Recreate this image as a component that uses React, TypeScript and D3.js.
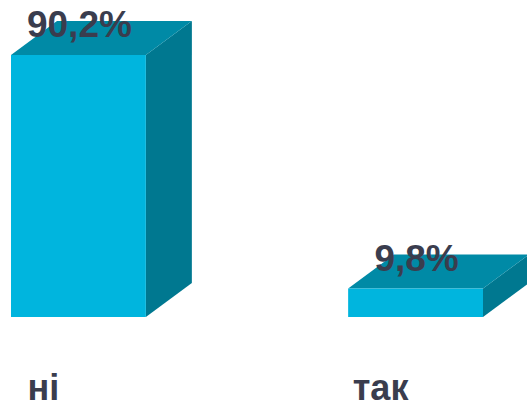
import React, { useRef, useEffect } from 'react';
import * as d3 from 'd3';

const categories = ['ні', 'так'];
const values = [90.2, 9.8];
const valueLabels = ['90,2%', '9,8%'];

const App: React.FC = () => {
  const chartRef = useRef<SVGSVGElement | null>(null);

  useEffect(() => {
    const svg = d3.select(chartRef.current);
    svg.selectAll('*').remove();

    const width = 527;
    const height = 403;
    const depthX = 46;
    const depthY = 34;

    const x = d3.scaleBand<string>()
      .domain(categories)
      .range([11, 483])
      .paddingInner(0.6)
      .paddingOuter(0);

    const y = d3.scaleLinear()
      .domain([0, 90.2])
      .range([317, 55]);

    const data = categories.map((c, i) => ({ cat: c, value: values[i], label: valueLabels[i] }));

    const bar = svg.selectAll('.bar')
      .data(data)
      .enter()
      .append('g')
      .attr('class', 'bar');

    const line = d3.line();

    // side face
    bar.append('path')
      .attr('d', d => {
        const x1 = x(d.cat)! + x.bandwidth();
        return line([
          [x1, y(d.value)],
          [x1 + depthX, y(d.value) - depthY],
          [x1 + depthX, y(0) - depthY],
          [x1, y(0)],
        ]) + 'Z';
      })
      .attr('fill', '#007890');

    // top face
    bar.append('path')
      .attr('d', d => {
        const x0 = x(d.cat)!;
        const x1 = x0 + x.bandwidth();
        const yt = y(d.value);
        return line([
          [x0, yt],
          [x0 + depthX, yt - depthY],
          [x1 + depthX, yt - depthY],
          [x1, yt],
        ]) + 'Z';
      })
      .attr('fill', '#008aa6');

    // front face
    bar.append('rect')
      .attr('x', d => x(d.cat)!)
      .attr('y', d => y(d.value))
      .attr('width', x.bandwidth())
      .attr('height', d => y(0) - y(d.value))
      .attr('fill', '#00b5de');

    bar.append('text')
      .attr('x', d => x(d.cat)! + x.bandwidth() / 2 + 1)
      .attr('y', d => y(d.value) - 18)
      .attr('text-anchor', 'middle')
      .style('font-family', '"Liberation Sans", Arial, sans-serif')
      .style('font-weight', 'bold')
      .style('font-size', '37px')
      .attr('fill', '#3a3d4e')
      .text(d => d.label);

    svg.selectAll('.cat')
      .data(data)
      .enter()
      .append('text')
      .attr('class', 'cat')
      .attr('x', d => x(d.cat)! + x.bandwidth() / 2 - 35)
      .attr('y', 400)
      .attr('text-anchor', 'middle')
      .style('font-family', '"Liberation Sans", Arial, sans-serif')
      .style('font-weight', 'bold')
      .style('font-size', '36px')
      .attr('fill', '#3a3d4e')
      .text(d => d.cat);

    svg.attr('width', width).attr('height', height);
  }, []);

  return (
    <svg
      ref={chartRef}
      width={527}
      height={403}
      style={{ position: 'fixed', left: 0, top: 0, background: '#fff' }}
    />
  );
};

export default App;
